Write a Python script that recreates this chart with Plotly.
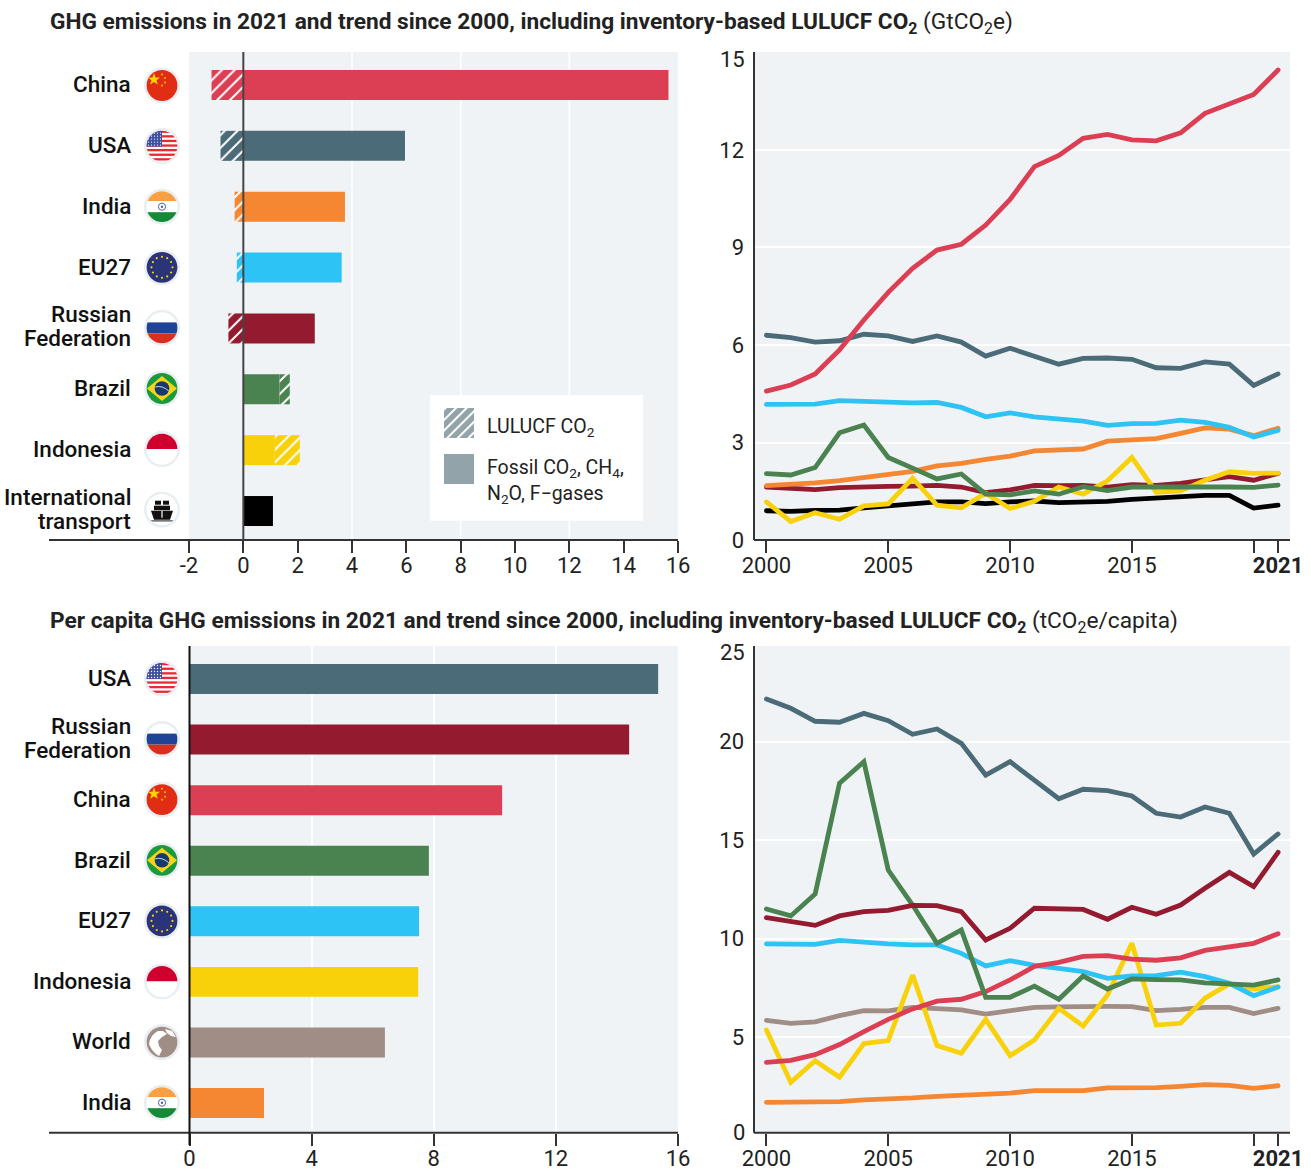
import base64
import math
import plotly.graph_objects as go

W, H = 1311, 1171
YEARS = list(range(2000, 2022))

COLORS = {"China": "#DC3F54", "USA": "#4B6B78", "India": "#F58632", "EU27": "#2DC3F5",
          "Russian Federation": "#941B2F", "Brazil": "#4A8250", "Indonesia": "#F8D10A",
          "International transport": "#000000", "World": "#A08D85"}
LABEL_LINES = {"Russian Federation": ["Russian", "Federation"],
               "International transport": ["International", "transport"]}

top_categories = ["China", "USA", "India", "EU27", "Russian Federation", "Brazil", "Indonesia", "International transport"]
top_fossil = [15.65, 5.95, 3.74, 3.62, 2.63, 1.33, 1.16, 1.09]
top_lulucf = [-1.17, -0.84, -0.32, -0.24, -0.55, 0.38, 0.92, 0.0]

bottom_categories = ["USA", "Russian Federation", "China", "Brazil", "EU27", "Indonesia", "World", "India"]
bottom_values = [15.35, 14.4, 10.24, 7.84, 7.52, 7.49, 6.4, 2.44]

ghg_china = [4.58,4.77,5.11,5.85,6.77,7.62,8.36,8.92,9.10,9.69,10.48,11.49,11.83,12.36,12.48,12.31,12.28,12.53,13.13,13.44,13.71,14.46]
ghg_usa = [6.30,6.23,6.09,6.13,6.33,6.28,6.11,6.28,6.09,5.66,5.90,5.64,5.41,5.59,5.60,5.56,5.30,5.28,5.48,5.41,4.76,5.11]
ghg_india = [1.67,1.71,1.76,1.83,1.93,2.01,2.11,2.28,2.36,2.48,2.58,2.74,2.76,2.80,3.04,3.07,3.12,3.28,3.45,3.41,3.21,3.44]
ghg_eu27 = [4.17,4.16,4.18,4.29,4.26,4.23,4.22,4.23,4.08,3.79,3.91,3.79,3.74,3.66,3.53,3.58,3.59,3.69,3.62,3.47,3.17,3.37]
ghg_russia = [1.63,1.59,1.55,1.61,1.64,1.65,1.66,1.68,1.63,1.46,1.54,1.68,1.67,1.68,1.63,1.70,1.68,1.74,1.85,1.95,1.84,2.05]
ghg_brazil = [2.04,2.00,2.23,3.30,3.54,2.54,2.21,1.88,2.03,1.41,1.39,1.51,1.41,1.64,1.52,1.63,1.63,1.64,1.63,1.63,1.62,1.69]
ghg_indonesia = [1.17,0.57,0.84,0.64,1.05,1.11,1.90,1.07,0.99,1.44,0.97,1.19,1.63,1.41,1.82,2.54,1.47,1.51,1.84,2.10,2.05,2.06]
ghg_transport = [0.90,0.88,0.91,0.92,0.99,1.04,1.11,1.17,1.17,1.12,1.17,1.20,1.15,1.16,1.19,1.25,1.29,1.34,1.37,1.37,0.98,1.07]

pc_usa = [22.17,21.7,21.04,20.99,21.44,21.07,20.38,20.65,19.92,18.31,18.99,18.08,17.11,17.59,17.52,17.25,16.37,16.18,16.69,16.37,14.30,15.32]
pc_russia = [11.07,10.87,10.68,11.16,11.38,11.44,11.70,11.68,11.38,9.94,10.53,11.55,11.49,11.49,10.99,11.6,11.24,11.71,12.56,13.37,12.65,14.39]
pc_brazil = [11.51,11.16,12.27,17.89,18.99,13.49,11.71,9.77,10.45,7.03,7.03,7.6,6.93,8.11,7.45,7.96,7.93,7.91,7.76,7.72,7.65,7.91]
pc_china = [3.73,3.83,4.12,4.63,5.29,5.91,6.44,6.83,6.93,7.32,7.91,8.60,8.80,9.11,9.14,8.97,8.91,9.03,9.41,9.58,9.77,10.26]
pc_eu27 = [9.74,9.70,9.72,9.92,9.82,9.74,9.69,9.69,9.26,8.62,8.89,8.65,8.50,8.33,7.99,8.11,8.13,8.31,8.08,7.74,7.11,7.55]
pc_indonesia = [5.37,2.71,3.81,2.97,4.68,4.83,8.16,4.58,4.19,5.91,4.07,4.86,6.47,5.57,7.15,9.77,5.62,5.71,6.98,7.71,7.45,7.57]
pc_world = [5.86,5.71,5.78,6.10,6.35,6.34,6.52,6.44,6.39,6.18,6.34,6.52,6.54,6.57,6.57,6.56,6.35,6.42,6.52,6.52,6.20,6.47]
pc_india = [1.70,1.70,1.70,1.73,1.82,1.85,1.92,2.00,2.04,2.12,2.17,2.29,2.27,2.29,2.43,2.43,2.44,2.51,2.60,2.56,2.41,2.54]

top_lines = [("International transport", ghg_transport), ("Russian Federation", ghg_russia), ("India", ghg_india),
             ("Indonesia", ghg_indonesia), ("Brazil", ghg_brazil), ("EU27", ghg_eu27), ("USA", ghg_usa), ("China", ghg_china)]
bottom_lines = [("India", pc_india), ("World", pc_world), ("Indonesia", pc_indonesia), ("EU27", pc_eu27), ("China", pc_china),
                ("Brazil", pc_brazil), ("Russian Federation", pc_russia), ("USA", pc_usa)]

year_ticks = [2000, 2005, 2010, 2015, 2020, 2021]
year_labels = ["2000", "2005", "2010", "2015", "", "<b>2021</b>"]

FONT = "Roboto"
INK = "#222222"
BG = "#F0F3F6"


def px(x):
    return x / W


def py(y):
    return 1 - y / H


def dom_x(a, b):
    return [px(a), px(b)]


def dom_y(top, bottom):
    return [py(bottom), py(top)]


# ---------- flag artwork ----------
def star_ring():
    out = ""
    for i in range(12):
        a = math.radians(30 * i)
        out += f'<circle cx="{18 + 10.5 * math.cos(a):.1f}" cy="{18 + 10.5 * math.sin(a):.1f}" r="1.1" fill="#F8D10A"/>'
    return out


def us():
    s = '<rect width="36" height="36" fill="#fff"/>'
    for i in range(7):
        s += f'<rect y="{2.5 + i * 4.6:.1f}" width="36" height="2.3" fill="#EA2A33"/>'
    s += '<rect width="18" height="18.5" fill="#3F4FA0"/>'
    for r in range(5):
        for c in range(5):
            s += f'<circle cx="{4.5 + c * 3}" cy="{5 + r * 3}" r="0.7" fill="#fff"/>'
    return s


FLAG_ART = {
    "China": '<rect width="36" height="36" fill="#E02D14"/><polygon points="10,5.5 11.5,10 16,10 12.5,12.7 13.8,17 10,14.5 6.2,17 7.5,12.7 4,10 8.5,10" fill="#FFD400"/>'
             '<circle cx="18" cy="7" r="0.9" fill="#FFD400"/><circle cx="21" cy="10.5" r="0.9" fill="#FFD400"/><circle cx="21" cy="15" r="0.9" fill="#FFD400"/><circle cx="18" cy="18" r="0.9" fill="#FFD400"/>',
    "USA": us(),
    "India": '<rect width="36" height="12.5" fill="#F7A144"/><rect y="12.5" width="36" height="11" fill="#fff"/><rect y="23.5" width="36" height="13" fill="#138A36"/>'
             '<circle cx="18" cy="18" r="3.6" fill="none" stroke="#5560A8" stroke-width="1"/><circle cx="18" cy="18" r="1.2" fill="#5560A8"/>',
    "EU27": '<rect width="36" height="36" fill="#2A3479"/>' + star_ring(),
    "Russian Federation": '<rect width="36" height="12.5" fill="#fff"/><rect y="12.5" width="36" height="11" fill="#1F4397"/><rect y="23.5" width="36" height="13" fill="#D7301F"/>',
    "Brazil": '<rect width="36" height="36" fill="#1A9A3C"/><polygon points="18,5.5 33,18 18,30.5 3,18" fill="#F7D417"/><circle cx="18" cy="18" r="7.3" fill="#16396F"/>'
              '<path d="M11.2 16.5 Q18 14.5 24.8 20.5" fill="none" stroke="#fff" stroke-width="0.8"/>',
    "Indonesia": '<rect width="36" height="18" fill="#CF002D"/><rect y="18" width="36" height="18" fill="#fff"/>',
    "International transport": '<rect width="36" height="36" fill="#fff"/><rect x="11" y="9" width="6" height="4" fill="#111"/><rect x="19" y="9" width="6" height="4" fill="#111"/>'
                               '<rect x="10" y="14" width="16" height="4.5" fill="#111"/><polygon points="7,19 29,19 26,28 10,28" fill="#111"/><rect x="2" y="28.6" width="32" height="1.2" fill="#444"/>'
                               '<rect x="17.4" y="19" width="1.2" height="7" fill="#fff"/>',
    "World": '<rect width="36" height="36" fill="#A08D85"/>'
             '<path d="M5 20 Q6 11 14 7 L19 7 L23 10 L18 13 L14 17 L15 22 L18 26 L15 32 Q8 28 5 20Z" fill="#fff"/>'
             '<path d="M21 5 L28 7 L32 13 L27 12 L23 9Z" fill="#fff"/>',
}


def svg_uri(body):
    return "data:image/svg+xml;base64," + base64.b64encode(body.encode()).decode()


def flag_uri(name):
    body = ('<svg xmlns="http://www.w3.org/2000/svg" width="72" height="72" viewBox="0 0 36 36">'
            '<defs><clipPath id="c"><circle cx="18" cy="18" r="15.4"/></clipPath></defs>'
            '<circle cx="18" cy="18" r="18" fill="#E9EEF2"/><circle cx="18" cy="18" r="15.4" fill="#fff"/>'
            f'<g clip-path="url(#c)">{FLAG_ART[name]}</g></svg>')
    return svg_uri(body)


HATCH_URI = svg_uri(
    '<svg xmlns="http://www.w3.org/2000/svg" width="60" height="60" viewBox="0 0 30 30">'
    '<defs><pattern id="p" width="7.5" height="7.5" patternUnits="userSpaceOnUse" patternTransform="rotate(45)">'
    '<rect width="7.5" height="7.5" fill="#92A4A9"/><rect width="2" height="7.5" fill="#fff"/></pattern></defs>'
    '<rect width="30" height="30" fill="url(#p)"/></svg>')

PANELS = {
    "tl": dict(x=(189, 678), y=(52, 540)),
    "tr": dict(x=(754, 1290), y=(52, 540)),
    "bl": dict(x=(189.5, 678), y=(646, 1132.7)),
    "br": dict(x=(754, 1290), y=(646, 1132.7)),
}

TICK = dict(ticks="outside", ticklen=12, tickwidth=1.5, tickcolor="#333333", automargin=False, ticklabelstandoff=-6,
            tickfont=dict(family=FONT, size=22, color=INK), showline=False, zeroline=False)

fig = go.Figure()

# ---------- top-left bars ----------
for cat, fossil, lulucf in zip(top_categories, top_fossil, top_lulucf):
    if lulucf == 0:
        continue
    col = COLORS[cat]
    fig.add_trace(go.Bar(name=f"{cat} LULUCF CO2", y=[cat], x=[lulucf], base=[fossil if lulucf > 0 else 0], orientation="h",
                         width=0.493, xaxis="x", yaxis="y", showlegend=False,
                         marker=dict(color=col, line_width=0,
                                     pattern=dict(shape="/", bgcolor=col, fgcolor="#FFFFFF", size=9, solidity=0.22, fillmode="replace"))))
fig.add_trace(go.Bar(name="Fossil CO2, CH4, N2O, F-gases", y=top_categories, x=top_fossil, orientation="h",
                     width=0.493, xaxis="x", yaxis="y", showlegend=False,
                     marker=dict(color=[COLORS[c] for c in top_categories], line_width=0)))

# ---------- bottom-left bars ----------
fig.add_trace(go.Bar(name="Per capita", y=bottom_categories, x=bottom_values, orientation="h", width=0.495,
                     xaxis="x3", yaxis="y3", showlegend=False,
                     marker=dict(color=[COLORS[c] for c in bottom_categories], line_width=0)))

# ---------- right-hand lines ----------
for name, vals in top_lines:
    fig.add_trace(go.Scatter(name=name, x=YEARS, y=vals, mode="lines", xaxis="x2", yaxis="y2", showlegend=False,
                             line=dict(color=COLORS[name], width=4.8)))
for name, vals in bottom_lines:
    fig.add_trace(go.Scatter(name=name, x=YEARS, y=vals, mode="lines", xaxis="x4", yaxis="y4", showlegend=False,
                             line=dict(color=COLORS[name], width=4.8)))

WHITE_GRID = dict(showgrid=True, gridcolor="#FFFFFF", gridwidth=1.5)
YEAR_RANGE = [1999.49, 2021.49]

layout = dict(
    width=W, height=H, margin=dict(l=0, r=0, t=0, b=0, pad=0), autosize=False,
    paper_bgcolor="#FFFFFF", plot_bgcolor=BG, barmode="overlay", hovermode=False,
    font=dict(family=FONT, color=INK),
    xaxis=dict(domain=dom_x(*PANELS["tl"]["x"]), anchor="y", range=[-2, 16], tickmode="array",
               tickvals=list(range(-2, 17, 2)), ticktext=[str(v) for v in range(-2, 17, 2)], showgrid=False, **TICK),
    yaxis=dict(domain=dom_y(*PANELS["tl"]["y"]), anchor="x", type="category", categoryorder="array", automargin=False,
               categoryarray=top_categories, range=[7.476, -0.542], showticklabels=False, ticks="", showgrid=False, zeroline=False),
    xaxis2=dict(domain=dom_x(*PANELS["tr"]["x"]), anchor="y2", range=YEAR_RANGE, tickmode="array",
                tickvals=year_ticks, ticktext=year_labels, showgrid=False, **TICK),
    yaxis2=dict(domain=dom_y(*PANELS["tr"]["y"]), anchor="x2", range=[0, 15.015], tickmode="array", automargin=False,
                tickvals=[0, 3, 6, 9, 12], ticks="", ticklabelstandoff=9, zeroline=False, showline=False,
                tickfont=dict(family=FONT, size=22, color=INK), **WHITE_GRID),
    xaxis3=dict(domain=dom_x(*PANELS["bl"]["x"]), anchor="y3", range=[0, 16], tickmode="array",
                tickvals=[0, 4, 8, 12, 16], ticktext=["0", "4", "8", "12", "16"], **WHITE_GRID,
                **TICK),
    yaxis3=dict(domain=dom_y(*PANELS["bl"]["y"]), anchor="x3", type="category", categoryorder="array", automargin=False,
                categoryarray=bottom_categories, range=[7.49, -0.545], showticklabels=False, ticks="", showgrid=False, zeroline=False),
    xaxis4=dict(domain=dom_x(*PANELS["br"]["x"]), anchor="y4", range=YEAR_RANGE, tickmode="array",
                tickvals=year_ticks, ticktext=year_labels, showgrid=False, **TICK),
    yaxis4=dict(domain=dom_y(*PANELS["br"]["y"]), anchor="x4", range=[0.157, 24.86], tickmode="array", automargin=False,
                tickvals=[5, 10, 15, 20], ticks="", ticklabelstandoff=9, zeroline=False, showline=False,
                tickfont=dict(family=FONT, size=22, color=INK), **WHITE_GRID),
)

# ---------- shapes ----------
AXIS = dict(color="#333333", width=2)
shapes = []


def hline(x0, x1, y, line=AXIS):
    shapes.append(dict(type="line", xref="paper", yref="paper", x0=px(x0), x1=px(x1), y0=py(y), y1=py(y), line=line, layer="above"))


def vline(x, y0, y1, line=AXIS):
    shapes.append(dict(type="line", xref="paper", yref="paper", x0=px(x), x1=px(x), y0=py(y0), y1=py(y1), line=line, layer="above"))


for v in [4, 8, 12]:
    shapes.append(dict(type="line", xref="x", yref="y domain", x0=v, x1=v, y0=0, y1=1,
                       line=dict(color="#FFFFFF", width=1.5), layer="below"))
hline(49, 678, 540)
hline(49, 678, 1132.7)
hline(754, 1290, 540)
hline(754, 1290, 1132.7)
vline(754, 52, 540)
vline(754, 646, 1132.7)
shapes.append(dict(type="line", xref="x", yref="y domain", x0=0, x1=0, y0=0, y1=1, line=dict(color="#444444", width=2), layer="above"))
vline(189.5, 646, 1145, dict(color="#111111", width=2))
# legend panel
shapes.append(dict(type="rect", xref="paper", yref="paper", x0=px(430), x1=px(643), y0=py(520.7), y1=py(395),
                   fillcolor="#FFFFFF", line_width=0, layer="below"))
shapes.append(dict(type="rect", xref="paper", yref="paper", x0=px(444), x1=px(474), y0=py(484), y1=py(454),
                   fillcolor="#92A4A9", line_width=0, layer="above"))
layout["shapes"] = shapes

# ---------- annotations ----------
ann = []


def text(x, y, s, size, anchor="left", color=INK, yref="paper", yshift=0, weight=None):
    f = dict(family=FONT, size=size, color=color)
    if weight:
        f["weight"] = weight
    ann.append(dict(x=px(x), y=py(y) if yref == "paper" else y, xref="paper", yref=yref, text=s, showarrow=False,
                    xanchor=anchor, yanchor="middle", font=f, yshift=yshift, align=anchor))


TITLE_SIZE = 22.7
text(48, 23, "<b>GHG emissions in 2021 and trend since 2000, including inventory-based LULUCF CO<sub>2</sub></b> (GtCO<sub>2</sub>e)", TITLE_SIZE)
text(48, 622, "<b>Per capita GHG emissions in 2021 and trend since 2000, including inventory-based LULUCF CO<sub>2</sub></b> (tCO<sub>2</sub>e/capita)", TITLE_SIZE)

LABEL_SIZE = 22.5
for cats, yref in ((top_categories, "y"), (bottom_categories, "y3")):
    for c in cats:
        lines = LABEL_LINES.get(c, [c])
        if len(lines) == 1:
            text(133, c, lines[0], LABEL_SIZE, "right", "#111111", yref, yshift=1, weight=500)
        else:
            text(133, c, lines[0], LABEL_SIZE, "right", "#111111", yref, yshift=14, weight=500)
            text(133, c, lines[1], LABEL_SIZE, "right", "#111111", yref, yshift=-10, weight=500)

# y labels kept inside the panel ends, as in the source
text(747, 59, "15", 22, "right")
text(747, 652, "25", 22, "right")
text(747, 1132, "0", 22, "right")

text(485, 427, "LULUCF CO<sub>2</sub>", 19.5)
text(485, 469, "Fossil CO<sub>2</sub>, CH<sub>4</sub>,", 19.5)
text(485, 494, "N<sub>2</sub>O, F\u2212gases", 19.5)
layout["annotations"] = ann

# ---------- images ----------
images = []


def icon(src, cx, cy, size):
    images.append(dict(source=src, xref="paper", yref="paper", x=px(cx - size / 2), y=py(cy - size / 2),
                       sizex=size / W, sizey=size / H, xanchor="left", yanchor="top", sizing="stretch", layer="above"))


for i, c in enumerate(top_categories):
    icon(flag_uri(c), 162, 85.5 + 60.6 * i, 36)
for i, c in enumerate(bottom_categories):
    icon(flag_uri(c), 162, 678.5 + 60.6 * i, 36)
icon(HATCH_URI, 459, 423, 30)
layout["images"] = images

fig.update_layout(**layout)
POST = ("document.body.style.margin='0';"
        "document.querySelectorAll('.scatterlayer .js-line').forEach(function(e){e.style.strokeLinecap='round';});")
fig.write_html("out.html", post_script=POST, config={"displayModeBar": False})
